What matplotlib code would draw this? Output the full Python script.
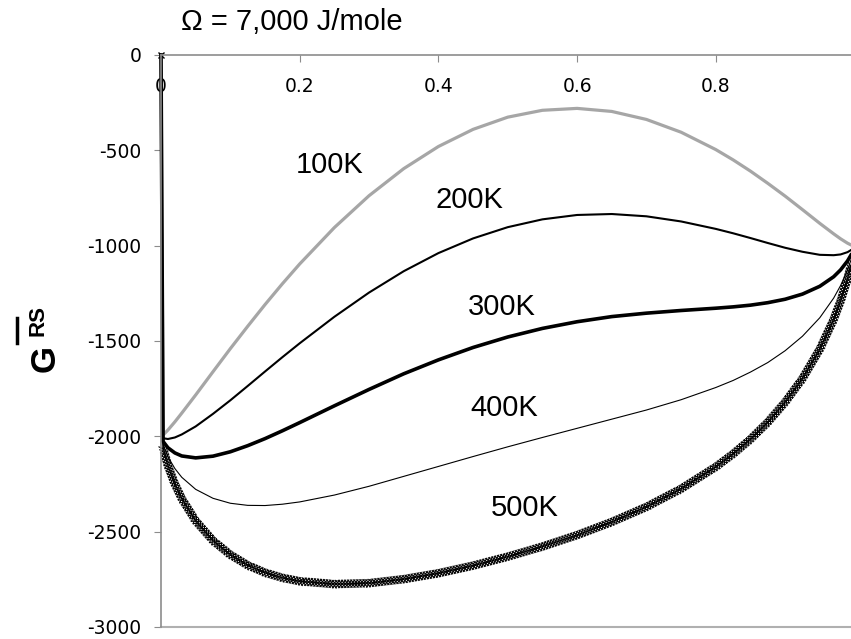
import matplotlib
matplotlib.use("Agg")
import matplotlib.pyplot as plt
from matplotlib import patheffects
from matplotlib.lines import Line2D

plt.rcParams["axes.unicode_minus"] = False

# G(x) curves, Omega = 7000 J/mole
x = [0, 0.003, 0.01, 0.02, 0.03, 0.05, 0.075, 0.1, 0.125, 0.15, 0.175, 0.2, 0.25, 0.3, 0.35, 0.4, 0.45,
     0.5, 0.55, 0.6, 0.65, 0.7, 0.75, 0.8, 0.825, 0.85, 0.875, 0.9, 0.925, 0.95, 0.97, 0.98, 0.99, 0.995]
g100 = [0, -1993, -1967, -1924, -1878, -1783, -1661, -1540, -1423, -1309, -1200, -1096, -905, -738, -596, -480, -390,
        -326, -290, -280, -296, -338, -405, -496, -550, -609, -673, -740, -811, -883, -938, -964, -987, -996]
g200 = [0, -2010, -2014, -2006, -1990, -1948, -1882, -1811, -1736, -1660, -1585, -1512, -1373, -1246, -1134, -1039, -962,
        -903, -862, -839, -834, -846, -873, -912, -935, -960, -986, -1011, -1032, -1048, -1050, -1046, -1034, -1023]
g300 = [0, -2027, -2060, -2087, -2103, -2113, -2104, -2081, -2049, -2012, -1971, -1928, -1840, -1754, -1672, -1599, -1534,
        -1479, -1434, -1399, -1372, -1354, -1340, -1328, -1321, -1312, -1299, -1281, -1254, -1213, -1163, -1127, -1080, -1049]
g400 = [0, -2044, -2107, -2169, -2215, -2278, -2325, -2351, -2362, -2363, -2356, -2344, -2308, -2262, -2210, -2158, -2106,
        -2055, -2006, -1958, -1910, -1862, -1808, -1744, -1707, -1663, -1613, -1551, -1475, -1378, -1275, -1209, -1127, -1075]
g500 = [0, -2061, -2154, -2250, -2327, -2443, -2547, -2621, -2676, -2715, -2742, -2760, -2775, -2770, -2749, -2718, -2678,
        -2631, -2578, -2518, -2449, -2370, -2275, -2160, -2092, -2015, -1926, -1821, -1697, -1543, -1387, -1290, -1174, -1101]

labels = ["100K", "200K", "300K", "400K", "500K"]
label_x = [0.243, 0.445, 0.492, 0.495, 0.524]
label_y = [-577, -760, -1321, -1851, -2375]

xticks = [0, 0.2, 0.4, 0.6, 0.8]
yticks = [0, -500, -1000, -1500, -2000, -2500, -3000]

fig = plt.figure(figsize=(8.51, 6.39), dpi=100)
ax = fig.add_axes([161/851, 12/639, 1 - 161/851, (627 - 55)/639])

ax.plot(x, g100, color="#a6a6a6", lw=2.3, clip_on=False)
ax.plot(x, g200, color="black", lw=1.5, clip_on=False)
ax.plot(x, g300, color="black", lw=2.6, clip_on=False)
ax.plot(x, g400, color="black", lw=0.8, clip_on=False)

# 500K: thin line with dense x crosses along it
ax.plot(x[:2], g500[:2], color="black", lw=1.2, clip_on=False)
crosses = [patheffects.TickedStroke(spacing=2.2, angle=a, length=1.7) for a in (45, -135, 135, -45)]
ax.plot(x[1:], g500[1:], color="black", lw=0.8, clip_on=False,
        path_effects=crosses + [patheffects.Normal()])
ax.plot(x[:1], g500[:1], "x", color="black", ms=5, mew=1, clip_on=False)

for t, lx, ly in zip(labels, label_x, label_y):
    ax.text(lx, ly, t, fontsize=21, family="Liberation Sans", ha="center", va="center")

ax.set_xlim(0, 0.995)
ax.set_ylim(-3000, 0)
ax.spines["right"].set_visible(False)
ax.spines["top"].set_visible(False)
ax.spines["bottom"].set_position(("data", 0))
for s in ("bottom", "left"):
    ax.spines[s].set_color("#8c8c8c")
    ax.spines[s].set_linewidth(1.2)
ax.axhline(-3000, color="#b0b0b0", lw=1.5, clip_on=False)

ax.set_xticks(xticks)
ax.set_xticklabels(["0", "0.2", "0.4", "0.6", "0.8"])
ax.set_yticks(yticks)
ax.tick_params(axis="x", direction="out", length=5, color="#8c8c8c", pad=11, labelsize=13.5)
ax.tick_params(axis="y", direction="out", length=5, color="#8c8c8c", pad=9, labelsize=13.5)

fig.text(292/851, 1 - 22/639, "\u03a9 = 7,000 J/mole", fontsize=21, family="Liberation Sans",
         ha="center", va="center")

# y label: G with overbar and RS superscript
fig.text(45/851, 1 - 358/639, "G", fontsize=25, fontweight="bold", family="Liberation Sans",
         rotation=90, ha="center", va="center")
fig.text(38/851, 1 - 321/639, "RS", fontsize=16, fontweight="bold", family="Liberation Sans",
         rotation=90, ha="center", va="center")
fig.add_artist(Line2D([17/851, 17/851], [1 - 318/639, 1 - 343/639], color="black", lw=2.5))

fig.savefig("out.png", dpi=100)
